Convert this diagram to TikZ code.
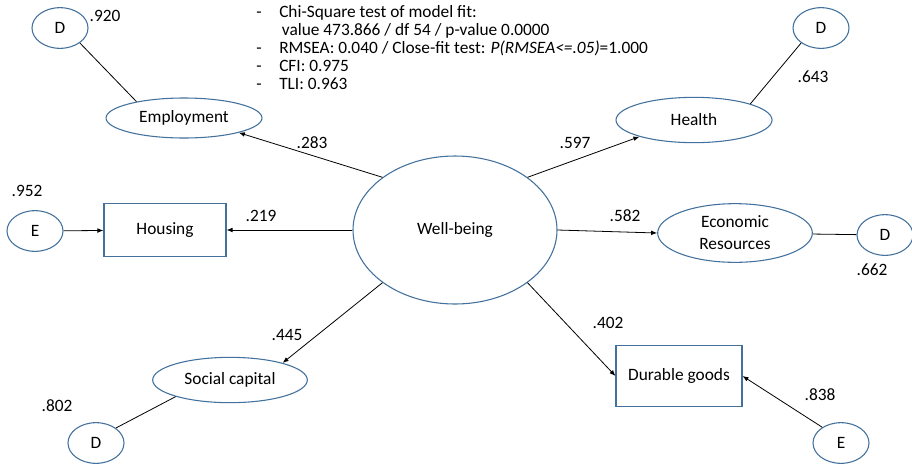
\documentclass[tikz,border=0pt]{standalone}
\usepackage{fontspec}
\setmainfont{Carlito}
\usetikzlibrary{shapes,arrows.meta,positioning}
\definecolor{semblue}{RGB}{65,113,156}

\begin{document}
\begin{tikzpicture}[x=0.75pt,y=-0.75pt,
    font=\fontsize{13}{16}\selectfont,
    latent/.style={ellipse, draw=semblue, line width=0.8pt, inner sep=0pt},
    resid/.style={latent, minimum width=42pt, minimum height=30.5pt},
    observed/.style={rectangle, draw=semblue, line width=0.8pt, inner sep=0pt},
    effect/.style={-{Latex[length=4.5pt,width=3.5pt]}, line width=0.6pt},
    errline/.style={line width=0.6pt},
    coef/.style={inner sep=0pt}
]
    \fill[white] (0,0) rectangle (912,465);
    \useasboundingbox (0,0) rectangle (912,465);

    % latent and observed variables
    \node[latent, minimum width=153pt, minimum height=111pt] (wb) at (455,230) {Well-being};
    \node[latent, minimum width=117pt, minimum height=30pt] (emp) at (184,118) {Employment};
    \node[latent, minimum width=117pt, minimum height=34pt] (hlth) at (694,120) {Health};
    \node[latent, minimum width=116pt, minimum height=44pt, align=center,
          font=\fontsize{13}{16.5}\selectfont] (econ) at (735,233) {Economic\\Resources};
    \node[latent, minimum width=116pt, minimum height=34pt] (soc) at (230,380) {Social capital};
    \node[observed, minimum width=91.5pt, minimum height=40pt] (hous) at (165,230) {Housing};
    \node[observed, minimum width=94.5pt, minimum height=45.75pt] (dur) at (679,376) {Durable goods};

    % disturbances and errors
    \node[resid] (dEmp) at (60,28) {D};
    \node[resid] (dHlth) at (821,28) {D};
    \node[resid] (eHous) at (35,231) {E};
    \node[resid] (dEcon) at (885,235) {D};
    \node[resid] (dSoc) at (96,443) {D};
    \node[resid] (eDur) at (841,443) {E};

    % loadings
    \draw[effect] (wb.144) -- (emp.-15);
    \draw[effect] (wb.36) -- (hlth.197);
    \draw[effect] (wb.west) -- (hous.east);
    \draw[effect] (wb.east) -- (econ.west);
    \draw[effect] (wb.216) -- (soc.18);
    \draw[effect] (wb.324) -- (dur.west);
    \draw[effect] (eHous) -- (hous);
    \draw[effect] (eDur.140) -- (dur.east);
    \draw[errline] (dEmp.-37) -- (emp.161);
    \draw[errline] (dHlth.217) -- (hlth.16);
    \draw[errline] (econ) -- (dEcon);
    \draw[errline] (dSoc.37) -- (soc.197);

    % coefficients
    \node[coef] (c920) at (105,16) {.920};
    \node[coef] (c283) at (312,143) {.283};
    \node[coef] (c597) at (575,143) {.597};
    \node[coef] (c643) at (813,77) {.643};
    \node[coef] (c952) at (27,191) {.952};
    \node[coef] (c219) at (261,216) {.219};
    \node[coef] (c582) at (625,216) {.582};
    \node[coef] (c662) at (872,270) {.662};
    \node[coef] (c445) at (287,335) {.445};
    \node[coef] (c802) at (57,406) {.802};
    \node[coef] (c402) at (608,323) {.402};
    \node[coef] (c838) at (820,395) {.838};

    % fit statistics
    \node[anchor=north west, inner sep=0pt, font=\fontsize{13}{13.5}\selectfont] (fit) at (256,5) {%
        \renewcommand{\arraystretch}{1}%
        \begin{tabular}{@{}l@{}l@{}}
        \makebox[17.25pt][l]{-} & Chi-Square test of model fit:\\
         & \hspace{2pt}value 473.866 / df 54 / p-value 0.0000\\
        \makebox[17.25pt][l]{-} & RMSEA: 0.040 / Close-fit test: \textit{P(RMSEA<=.05)}=1.000\\
        \makebox[17.25pt][l]{-} & CFI: 0.975\\
        \makebox[17.25pt][l]{-} & TLI: 0.963
        \end{tabular}};
\end{tikzpicture}
\end{document}
